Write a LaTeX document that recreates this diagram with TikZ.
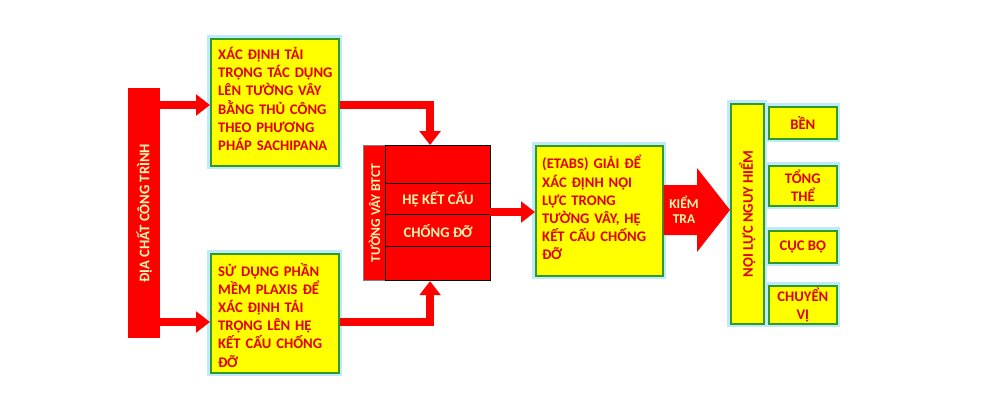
\documentclass[tikz,border=0pt]{standalone}
\usepackage{fontspec}
\setmainfont{Carlito}
\usetikzlibrary{arrows.meta,calc}
\definecolor{rd}{HTML}{FF0000}
\definecolor{txr}{HTML}{E00000}
\definecolor{yl}{HTML}{FFFF00}
\definecolor{gb}{HTML}{2E9A2E}
\definecolor{lt}{HTML}{FFF6B0}
\newcommand{\jl}[1]{\makebox[112\unitpx][s]{#1}\\}
\newlength{\unitpx}\setlength{\unitpx}{0.03cm}
\tikzset{
 x=0.03cm,y=-0.03cm,
 glow/.style={preaction={draw=cyan!25,line width=6pt}},
 ybox/.style={glow,draw=gb,line width=1.4pt,fill=yl,inner sep=0pt,text=txr,font=\bfseries\fontsize{12.5}{15}\selectfont},
 btxt/.style={text width=112*0.03cm,align=left,text=txr,font=\bfseries\fontsize{12.5}{15.5}\selectfont,anchor=north west,inner sep=0pt},
 fat/.style={draw=rd,line width=0.26cm,-{Triangle[length=0.42cm,width=0.62cm]}},
 redrow/.style={draw=black,line width=1pt,fill=rd,inner sep=0pt,text=lt,font=\bfseries\fontsize{12.5}{14}\selectfont}
}
\begin{document}
\begin{tikzpicture}
\useasboundingbox (0,0) rectangle (1000,410);
% left bar
\node[fill=rd,minimum width=32*0.03cm,minimum height=250*0.03cm,inner sep=0pt,anchor=north west] (geo) at (128,88) {};
\node[rotate=90,text=lt,font=\bfseries\fontsize{12.5}{14}\selectfont] at (geo.center) {ĐỊA CHẤT CÔNG TRÌNH};
% top box
\node[ybox,minimum width=128*0.03cm,minimum height=127*0.03cm,anchor=north west] (top) at (210,38) {};
\node[btxt] at (218,47) {\jl{XÁC ĐỊNH TẢI}\jl{TRỌNG TÁC DỤNG}\jl{LÊN TƯỜNG VÂY}\jl{BẰNG THỦ CÔNG}\jl{THEO PHƯƠNG}PHÁP SACHIPANA};
% bottom box
\node[ybox,minimum width=128*0.03cm,minimum height=119*0.03cm,anchor=north west] (bot) at (210,253) {};
\node[btxt] at (218,263) {\jl{SỬ DỤNG PHẦN}\jl{MỀM PLAXIS ĐỂ}\jl{XÁC ĐỊNH TẢI}\jl{TRỌNG LÊN HỆ}\jl{KẾT CẤU CHỐNG}ĐỠ};
% central block
\node[fill=rd,draw=gray,line width=0.8pt,minimum width=22*0.03cm,minimum height=135*0.03cm,inner sep=0pt,anchor=north west] (wall) at (363,145) {};
\node[rotate=90,text=lt,font=\bfseries\fontsize{11.5}{13}\selectfont] at (wall.center) {TƯỜNG VÂY BTCT};
\node[redrow,minimum width=105*0.03cm,minimum height=38*0.03cm,anchor=north west] (r1) at (385,145) {};
\node[redrow,minimum width=105*0.03cm,minimum height=31*0.03cm,anchor=north west] (r2) at (385,183) {HỆ KẾT CẤU};
\node[redrow,minimum width=105*0.03cm,minimum height=32*0.03cm,anchor=north west] (r3) at (385,214) {CHỐNG ĐỠ};
\node[redrow,minimum width=105*0.03cm,minimum height=34*0.03cm,anchor=north west] (r4) at (385,246) {};
\coordinate (blkE) at (490,212);
% etabs
\node[ybox,minimum width=127*0.03cm,minimum height=130*0.03cm,anchor=north west] (etabs) at (535,145) {};
\node[btxt] at (542,155) {\jl{(ETABS) GIẢI ĐỂ}\jl{XÁC ĐỊNH NỘI}\jl{LỰC TRONG}\jl{TƯỜNG VÂY, HỆ}\jl{KẾT CẤU CHỐNG}ĐỠ};
% noi luc
\node[ybox,minimum width=33*0.03cm,minimum height=220*0.03cm,anchor=north west] (nl) at (730,103) {};
\node[rotate=90,text=txr,font=\bfseries\fontsize{12.5}{14}\selectfont] at (nl.center) {NỘI LỰC NGUY HIỂM};
\node[ybox,minimum width=68*0.03cm,minimum height=32*0.03cm,anchor=north west,align=center] (b1) at (768,106) {BỀN};
\node[ybox,minimum width=68*0.03cm,minimum height=40*0.03cm,anchor=north west,align=center] (b2) at (768,165) {TỔNG\\THỂ};
\node[ybox,minimum width=68*0.03cm,minimum height=32*0.03cm,anchor=north west,align=center] (b3) at (768,230) {CỤC BỘ};
\node[ybox,minimum width=68*0.03cm,minimum height=38*0.03cm,anchor=north west,align=center] (b4) at (768,285) {CHUYỂN\\VỊ};
% arrows
\draw[fat] (geo.east|-0,105) -- (top.west|-0,105);
\draw[fat] (geo.east|-0,322) -- (bot.west|-0,322);
\draw[fat] (top.east|-0,105) -| ($(r1.north)+(-8,0)$);
\draw[fat] (bot.east|-0,322) -| ($(r4.south)+(-8,0)$);
\draw[fat] (blkE) -- (etabs.west|-blkE);
% kiem tra
\fill[rd] (etabs.east|-0,185) -- (697,185) -- (697,168) -- (nl.west|-0,210) -- (697,252) -- (697,235) -- (etabs.east|-0,235) -- cycle;
\node[text=lt,font=\bfseries\fontsize{11.5}{13}\selectfont,align=center] (kt) at (684,210) {KIỂM\\TRA};
\end{tikzpicture}
\end{document}
